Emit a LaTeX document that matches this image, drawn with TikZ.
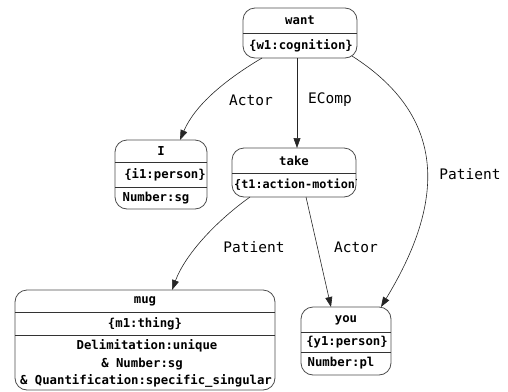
\documentclass[tikz,border=0pt]{standalone}
\usepackage{fontspec}
\setmonofont{DejaVu Sans Mono}
\usetikzlibrary{arrows.meta}
\tikzset{
  rec/.style={draw=black!70, line width=0.8pt, rounded corners=12pt, inner sep=0pt, outer sep=0pt},
  sepline/.style={draw=black!80, line width=0.7pt},
  ntxt/.style={font=\ttfamily\bfseries\fontsize{12.3}{14}\selectfont, inner sep=0pt, anchor=center},
  etxt/.style={font=\ttfamily\fontsize{14.5}{16}\selectfont, inner sep=0pt, anchor=center},
  edge/.style={draw=black!85, line width=0.6pt, -{Triangle[length=10pt,width=7pt]}},
}
\begin{document}
\begin{tikzpicture}[x=1pt,y=-1pt]
\useasboundingbox (0,0) rectangle (508,391);
% boxes
\node[rec, minimum width=114pt, minimum height=50pt] (want) at (300,33) {};
\node[rec, minimum width=92pt, minimum height=69pt] (I) at (161,174.5) {};
\node[rec, minimum width=124pt, minimum height=49pt] (take) at (294,172.5) {};
\node[rec, minimum width=260pt, minimum height=100pt] (mug) at (145,340) {};
\node[rec, minimum width=90pt, minimum height=68pt] (you) at (346,341) {};
% separators
\draw[sepline] (want.west |- 0,33) -- (want.east |- 0,33);
\draw[sepline] (I.west |- 0,162) -- (I.east |- 0,162);
\draw[sepline] (I.west |- 0,187) -- (I.east |- 0,187);
\draw[sepline] (take.west |- 0,173) -- (take.east |- 0,173);
\draw[sepline] (mug.west |- 0,312) -- (mug.east |- 0,312);
\draw[sepline] (mug.west |- 0,335) -- (mug.east |- 0,335);
\draw[sepline] (you.west |- 0,332) -- (you.east |- 0,332);
\draw[sepline] (you.west |- 0,352) -- (you.east |- 0,352);
% texts
\node[ntxt] (want-a) at (300,20.5) {want};
\node[ntxt] (want-b) at (301,45.5) {\{w1:cognition\}};
\node[ntxt] (I-a) at (161,151) {I};
\node[ntxt] (I-b) at (165,174.5) {\{i1:person\}};
\node[ntxt] (I-c) at (156,198) {Number:sg};
\node[ntxt] (take-a) at (294,160.5) {take};
\begin{scope}
\clip[rounded corners=12pt] (take.south west) rectangle (take.north east);
\node[ntxt, anchor=west, font=\ttfamily\bfseries\fontsize{11.8}{14}\selectfont] (take-b) at (234,185) {\{t1:action-motion\}};
\end{scope}
\node[ntxt] (mug-a) at (145,301) {mug};
\node[ntxt] (mug-b) at (145,323.5) {\{m1:thing\}};
\node[ntxt] (mug-c) at (147,346) {Delimitation:unique};
\node[ntxt] (mug-d) at (142,364) {\& Number:sg};
\node[ntxt] (mug-e) at (146,381) {\& Quantification:specific\_singular};
\node[ntxt] (you-a) at (346,320) {you};
\node[ntxt] (you-b) at (347,342) {\{y1:person\}};
\node[ntxt] (you-c) at (341,363.5) {Number:pl};
% edges
\draw[edge] ([xshift=-38pt]want.south) .. controls (225,80) and (195,105) .. ([xshift=19pt]I.north);
\draw[edge] ([xshift=-3pt]want.south) -- ([xshift=3pt]take.north);
\draw[edge] ([xshift=52pt,yshift=2pt]want.south) .. controls (454,121) and (440,210) .. ([xshift=35pt]you.north);
\draw[edge] ([xshift=-44pt]take.south) .. controls (215,222) and (185,255) .. ([xshift=27pt]mug.north);
\draw[edge] ([xshift=12pt]take.south) -- ([xshift=-15pt]you.north);
% edge labels
\node[etxt] (l1) at (251,100) {Actor};
\node[etxt] (l2) at (330,100) {EComp};
\node[etxt] (l3) at (470,174) {Patient};
\node[etxt] (l4) at (254,247) {Patient};
\node[etxt] (l5) at (356,247) {Actor};
\end{tikzpicture}
\end{document}
